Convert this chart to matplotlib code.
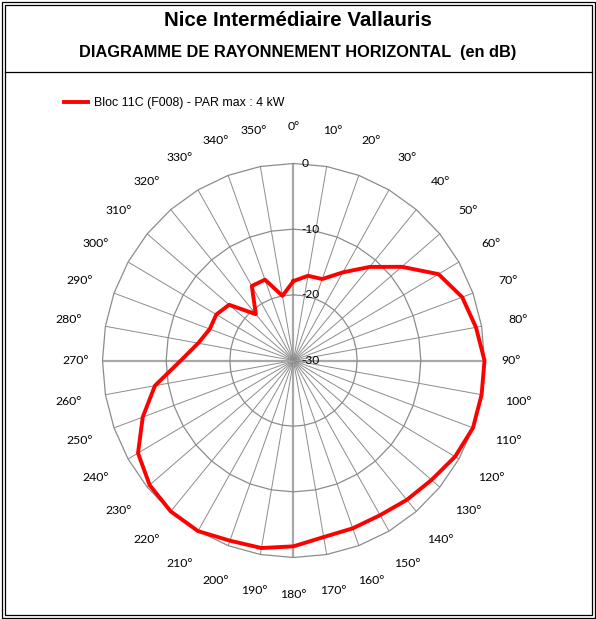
import numpy as np
import matplotlib
matplotlib.use('Agg')
import matplotlib.pyplot as plt
from matplotlib.lines import Line2D
from matplotlib.patches import Rectangle

# data (dB, every 10 degrees)
angles = [0, 10, 20, 30, 40, 50, 60, 70, 80, 90, 100, 110,
          120, 130, 140, 150, 160, 170, 180, 190, 200, 210, 220, 230,
          240, 250, 260, 270, 280, 290, 300, 310, 320, 330, 340, 350]
level_db = [-17.9, -16.9, -16.8, -14.5, -11.4, -7.8, -3.7, -1.8, -0.9, 0.0, 0.0, 0.0,
            -0.7, -1.7, -2.3, -2.8, -2.8, -2.7, -1.7, -1.0, -0.8, 0.0, 0.0, -0.5,
            -1.8, -4.8, -7.9, -12.3, -14.8, -16.0, -16.0, -16.8, -20.8, -16.9, -16.9, -20.0]
ring_values = [-30, -20, -10, 0]
series_name = 'Bloc 11C (F008) - PAR max : 4 kW'
title = 'Nice Intermédiaire Vallauris'
subtitle = 'DIAGRAMME DE RAYONNEMENT HORIZONTAL  (en dB)'

W, H = 596, 619
fig = plt.figure(figsize=(W / 100, H / 100), dpi=100)

# frame (double border) and title separator
for m in (1.5, 4.5):
    fig.add_artist(Rectangle((m / W, m / H), 1 - 2 * m / W, 1 - 2 * m / H,
                             transform=fig.transFigure, fill=False,
                             edgecolor='black', lw=0.9))
fig.add_artist(Line2D([4.5 / W, 1 - 4.5 / W], [1 - 72 / H, 1 - 72 / H],
                      transform=fig.transFigure, color='black', lw=0.9))

fig.text(298 / W, 1 - 21 / H, title, ha='center', va='center',
         fontsize=14.8, fontweight='bold', family='Liberation Sans')
fig.text(298 / W, 1 - 53 / H, subtitle, ha='center', va='center',
         fontsize=11.8, fontweight='bold', family='Liberation Sans')

# polar axes (slightly elliptical like the Excel radar chart)
cx, cy, rx, ry = 293.5, 360.5, 191, 197
ax = fig.add_axes([(cx - rx) / W, (H - cy - ry) / H, 2 * rx / W, 2 * ry / H],
                  projection='polar')
ax.set_theta_zero_location('N')
ax.set_theta_direction(-1)
ax.set_ylim(-30, 0)
ax.set_aspect('auto')
ax.grid(False)
ax.set_xticks([])
ax.set_yticks([])
ax.spines['polar'].set_visible(False)
ax.patch.set_visible(False)

th = np.deg2rad(angles)
th_closed = np.append(th, th[0])

# spokes
for a in angles:
    if a % 90 == 0:
        ax.plot([np.deg2rad(a)] * 2, [-30, 0], color='#a8a8a8', lw=1.6, zorder=1)
    else:
        ax.plot([np.deg2rad(a)] * 2, [-30, 0], color='#8c8c8c', lw=0.7, zorder=1)
# polygon rings
for v in ring_values[1:]:
    ax.plot(th_closed, [v] * len(th_closed), color='#8c8c8c', lw=0.9, zorder=1,
            clip_on=False)

# radial labels
for v in ring_values:
    ax.annotate(str(v), xy=(0, v), xytext=(8, 0), textcoords='offset pixels',
                ha='left', va='center', fontsize=8.6, family='Lato')

# angle labels
for a in angles:
    off = 27 if a in (90, 270) else 37
    ax.annotate(f'{a}°', xy=(np.deg2rad(a), 0),
                xytext=(off * np.sin(np.deg2rad(a)), off * np.cos(np.deg2rad(a))),
                textcoords='offset pixels', ha='center', va='center',
                fontsize=8.8, family='Lato', annotation_clip=False)

# data
vals = np.append(level_db, level_db[0])
ax.plot(th_closed, vals, color='#ff0000', lw=2.8, label=series_name,
        zorder=3, clip_on=False, solid_joinstyle='round')

fig.legend(loc='upper left', bbox_to_anchor=(58 / W, 1 - 91 / H), frameon=False,
           borderpad=0, handlelength=1.9, handletextpad=0.5,
           prop={'family': 'Liberation Sans', 'size': 8.9})

fig.savefig('out.png', dpi=100)
